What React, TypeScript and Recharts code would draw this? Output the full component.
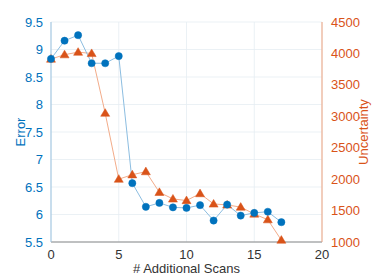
import { ComposedChart, Line, XAxis, YAxis, CartesianGrid } from 'recharts';

const scans = [0, 1, 2, 3, 4, 5, 6, 7, 8, 9, 10, 11, 12, 13, 14, 15, 16, 17];
const errorValues = [8.83, 9.16, 9.26, 8.75, 8.75, 8.88, 6.57, 6.14, 6.21, 6.13, 6.12, 6.17, 5.89, 6.18, 5.98, 6.03, 6.05, 5.86];
const uncertaintyValues = [3910, 3980, 4020, 4000, 3050, 2000, 2070, 2120, 1790, 1685, 1660, 1770, 1605, 1590, 1555, 1445, 1355, 1030];

const xTicks = [0, 5, 10, 15, 20];
const errorTicks = [5.5, 6, 6.5, 7, 7.5, 8, 8.5, 9, 9.5];
const uncertaintyTicks = [1000, 1500, 2000, 2500, 3000, 3500, 4000, 4500];

const BLUE = '#0072BD';
const ORANGE = '#D95319';
const FONT = '"Liberation Sans", Arial, sans-serif';

const data = scans.map((s, i) => ({
  scan: s,
  error: errorValues[i],
  uncertainty: uncertaintyValues[i],
}));

const Triangle = (props: any) => {
  const { cx, cy } = props;
  if (cx == null || cy == null) return null;
  const r = 4.5;
  return (
    <path
      d={`M${cx},${cy - r} L${cx + r},${cy + r * 0.7} L${cx - r},${cy + r * 0.7} Z`}
      fill={ORANGE}
      stroke={ORANGE}
      strokeWidth={0.5}
    />
  );
};

const Dot = (props: any) => {
  const { cx, cy } = props;
  if (cx == null || cy == null) return null;
  return <circle cx={cx} cy={cy} r={3.6} fill={BLUE} stroke={BLUE} strokeWidth={0.5} />;
};

// rotated axis title, centred on the axis height
const sideLabel = (text: string, color: string, dx: number) => (props: any) => {
  const vb = props.viewBox || {};
  const x = vb.x + dx;
  const y = vb.y + vb.height / 2;
  return (
    <text
      x={x}
      y={y}
      transform={`rotate(-90, ${x}, ${y})`}
      textAnchor="middle"
      dominantBaseline="central"
      fill={color}
      fontSize={13}
      fontFamily={FONT}
    >
      {text}
    </text>
  );
};

export default function App() {
  return (
    <div style={{ position: 'absolute', left: 0, top: 0, background: '#fff' }}>
      <ComposedChart
        width={379}
        height={277}
        data={data}
        margin={{ top: 22, right: 0, left: 0, bottom: 0 }}
        style={{ fontFamily: FONT }}
      >
        <CartesianGrid stroke="#e6eef2" strokeWidth={0.8} yAxisId="err" />
        <XAxis
          dataKey="scan"
          type="number"
          domain={[0, 20]}
          ticks={xTicks}
          height={35}
          tickLine={false}
          axisLine={{ stroke: '#888' }}
          tick={{ fill: '#333', fontSize: 13 }}
          tickMargin={2}
          label={{ value: '# Additional Scans', position: 'insideBottom', offset: 4, fill: '#333', fontSize: 13 }}
        />
        <XAxis
          xAxisId="top"
          dataKey="scan"
          type="number"
          domain={[0, 20]}
          orientation="top"
          height={0}
          tick={false}
          tickLine={false}
          axisLine={{ stroke: '#999' }}
        />
        <YAxis
          yAxisId="err"
          domain={[5.5, 9.5]}
          ticks={errorTicks}
          width={51}
          tickLine={false}
          axisLine={{ stroke: '#9cc3e0' }}
          tick={{ fill: BLUE, fontSize: 13 }}
          tickMargin={2}
          label={sideLabel('Error', BLUE, 20)}
        />
        <YAxis
          yAxisId="unc"
          orientation="right"
          domain={[1000, 4500]}
          ticks={uncertaintyTicks}
          width={57}
          tickLine={false}
          axisLine={{ stroke: '#eea27f' }}
          tick={{ fill: ORANGE, fontSize: 13, textAnchor: 'start' }}
          tickMargin={3}
          label={sideLabel('Uncertainty', ORANGE, 41)}
        />
        <Line
          yAxisId="unc"
          dataKey="uncertainty"
          type="linear"
          stroke="#f0a27c"
          strokeWidth={0.9}
          dot={<Triangle />}
          activeDot={false}
          isAnimationActive={false}
        />
        <Line
          yAxisId="err"
          dataKey="error"
          type="linear"
          stroke="#7fb6dc"
          strokeWidth={0.9}
          dot={<Dot />}
          activeDot={false}
          isAnimationActive={false}
        />
      </ComposedChart>
    </div>
  );
}
